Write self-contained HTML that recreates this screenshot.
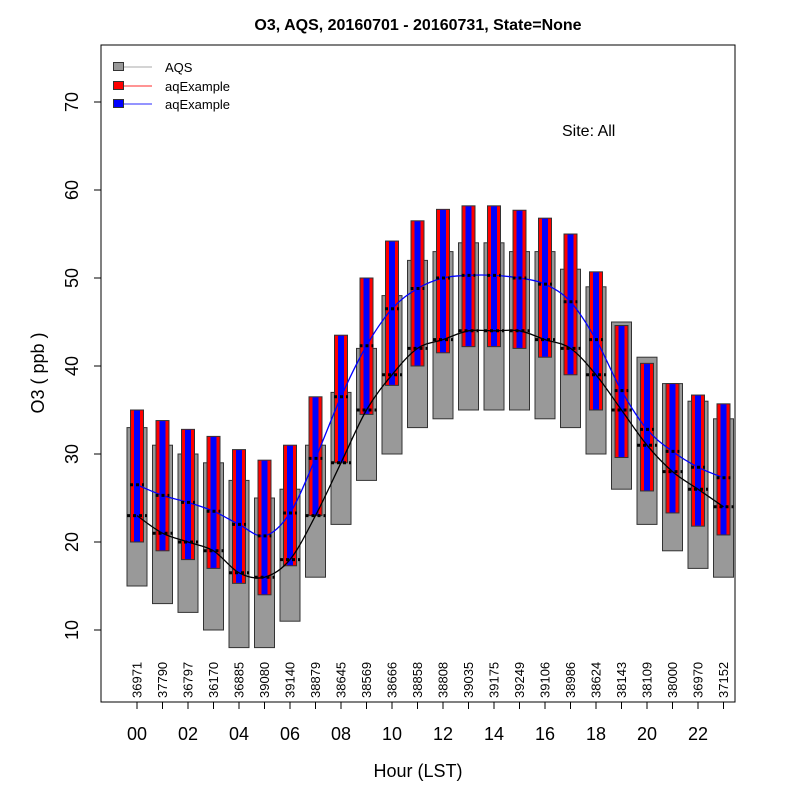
<!DOCTYPE html>
<html><head><meta charset="utf-8"><style>body{margin:0;background:#fff}svg{display:block;font-family:"Liberation Sans",Arial,sans-serif}</style></head>
<body>
<svg id="chart" width="800" height="800">
<text x="418" y="30" text-anchor="middle" font-size="16" font-weight="bold">O3, AQS, 20160701 - 20160731, State=None</text>
<rect x="101" y="45" width="634" height="657" fill="none" stroke="#000" stroke-width="1"/>
<g id="marks"></g>
<g id="axes"></g>
<text x="418" y="777" text-anchor="middle" font-size="18">Hour (LST)</text>
<text transform="translate(44,373) rotate(-90)" text-anchor="middle" font-size="18">O3 ( ppb )</text>
<text x="562" y="136" font-size="16">Site: All</text>
<g>
<g><line x1="120" y1="67" x2="152" y2="67" stroke="#bbb" stroke-width="1.3"/><rect x="113.5" y="62.5" width="10" height="8" fill="#999" stroke="#333"/><text x="165" y="72" font-size="13">AQS</text></g>
<g><line x1="120" y1="86" x2="152" y2="86" stroke="#f55" stroke-width="1.3"/><rect x="113.5" y="81.5" width="10" height="8" fill="#f00" stroke="#333"/><text x="165" y="91" font-size="13">aqExample</text></g>
<g><line x1="120" y1="104" x2="152" y2="104" stroke="#55f" stroke-width="1.3"/><rect x="113.5" y="99.5" width="10" height="8" fill="#00f" stroke="#333"/><text x="165" y="109" font-size="13">aqExample</text></g>
</g>
</svg>
<script>
const hours=[0,1,2,3,4,5,6,7,8,9,10,11,12,13,14,15,16,17,18,19,20,21,22,23];
const counts=["36971","37790","36797","36170","36885","39080","39140","38879","38645","38569","38666","38858","38808","39035","39175","39249","39106","38986","38624","38143","38109","38000","36970","37152"];
const aqsHigh=[33,31,30,29,27,25,26,31,37,42,48,52,53,54,54,53,53,51,49,45,41,38,36,34];
const aqsLow=[15,13,12,10,8,8,11,16,22,27,30,33,34,35,35,35,34,33,30,26,22,19,17,16];
const aqsMed=[23,21,20,19,16.5,16,18,23,29,35,39,42,43,44,44,44,43,42,39,35,31,28,26,24];
const modHigh=[35,33.8,32.8,32,30.5,29.3,31,36.5,43.5,50,54.2,56.5,57.8,58.2,58.2,57.7,56.8,55,50.7,44.6,40.3,38,36.7,35.7];
const modLow=[20,19,18,17,15.3,14,17.3,23,29,34.5,37.8,40,41.5,42.2,42.2,42,41,39,35,29.6,25.8,23.3,21.8,20.8];
const modMed=[26.5,25.3,24.5,23.5,22,20.7,23.3,29.5,36.5,42.3,46.5,48.8,50,50.3,50.3,50,49.3,47.3,43,37.2,32.8,30.3,28.5,27.3];
const yTicks=[10,20,30,40,50,60,70];
const xTickLabels=["00","02","04","06","08","10","12","14","16","18","20","22"];
const NS="http://www.w3.org/2000/svg";
const xS=h=>137+25.5*h, yS=v=>630-(v-10)*8.8;
function mk(tag,attrs,parent){const e=document.createElementNS(NS,tag);for(const k in attrs)e.setAttribute(k,attrs[k]);parent.appendChild(e);return e;}
const M=document.getElementById('marks'), A=document.getElementById('axes');
hours.forEach((h,i)=>{
  const x=xS(h);
  let r=mk('rect',{x:x-10,y:yS(aqsHigh[i]),width:20,height:yS(aqsLow[i])-yS(aqsHigh[i]),fill:'#999',stroke:'#333','stroke-width':1},M);
  
  
});
hours.forEach((h,i)=>{
  const x=xS(h),t=yS(modHigh[i]),b=yS(modLow[i]);
  let r=mk('rect',{x:x-6.5,y:t,width:13,height:b-t,fill:'#f00',stroke:'#333','stroke-width':1},M);
  
  
  let bl=mk('rect',{x:x-3,y:t+0.5,width:6,height:b-t-1,fill:'#00f'},M);
  
  
});
function curve(vals,color,name){
  const p=hours.map((h,i)=>[xS(h),yS(vals[i])]);
  let d='M'+p[0][0]+','+p[0][1];
  for(let i=0;i<p.length-1;i++){const p0=p[Math.max(0,i-1)],p1=p[i],p2=p[i+1],p3=p[Math.min(p.length-1,i+2)];
    d+=` C${p1[0]+(p2[0]-p0[0])/6},${p1[1]+(p2[1]-p0[1])/6} ${p2[0]-(p3[0]-p1[0])/6},${p2[1]-(p3[1]-p1[1])/6} ${p2[0]},${p2[1]}`;}
  const e=mk('path',{d:d,fill:'none',stroke:color,'stroke-width':1.3},M);
  
  
}
curve(aqsMed,'#000','aqs-median-line');
curve(modMed,'#00f','aqexample-median-line');
hours.forEach((h,i)=>{
  const x=xS(h);
  let a=mk('line',{x1:x-10,x2:x+10,y1:yS(aqsMed[i]),y2:yS(aqsMed[i]),stroke:'#000','stroke-width':3,'stroke-dasharray':'3,3'},M);
  
  
  let b=mk('line',{x1:x-7,x2:x+7,y1:yS(modMed[i]),y2:yS(modMed[i]),stroke:'#000','stroke-width':3,'stroke-dasharray':'3,3'},M);
  
  
  let t=mk('text',{transform:`translate(${x+4.5},698) rotate(-90)`,'font-size':13},M);
  t.textContent=counts[i];
  
  
  let tk=mk('line',{x1:x,x2:x,y1:702,y2:709,stroke:'#000'},A);
  
  
});
xTickLabels.forEach((l,i)=>{
  let t=mk('text',{x:xS(i*2),y:740,'text-anchor':'middle','font-size':18},A);
  t.textContent=l;
  
  
});
yTicks.forEach(v=>{
  let tk=mk('line',{x1:94,x2:101,y1:yS(v),y2:yS(v),stroke:'#000'},A);
  
  
  let t=mk('text',{transform:`translate(78,${yS(v)}) rotate(-90)`,'text-anchor':'middle','font-size':18},A);
  t.textContent=v;
  
  
});
let ya=mk('line',{x1:101,x2:101,y1:yS(10),y2:yS(70),stroke:'#000'},A);


</script>
</body></html>
